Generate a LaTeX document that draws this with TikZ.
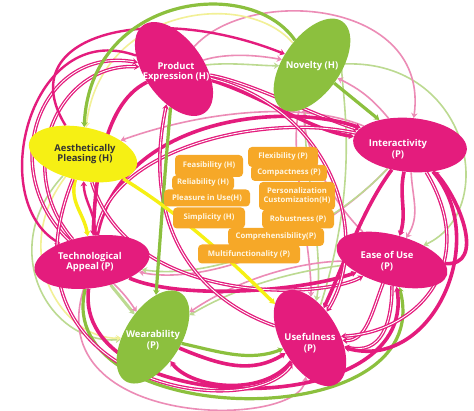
\documentclass[tikz,border=0pt]{standalone}
\usepackage{fontspec}
\setmainfont{Open Sans}
\usetikzlibrary{shapes.geometric,arrows.meta}
\definecolor{mag}{RGB}{228,28,125}
\definecolor{grn}{RGB}{140,192,62}
\definecolor{yel}{RGB}{246,240,20}
\definecolor{orng}{RGB}{246,168,40}
\definecolor{pinkl}{RGB}{236,140,182}
\definecolor{grnl}{RGB}{188,218,145}
\definecolor{yell}{RGB}{242,240,150}
\definecolor{cream}{RGB}{255,246,225}
\pgfdeclarelayer{bg}
\pgfsetlayers{bg,main}
\tikzset{
  ell/.style={ellipse, inner sep=0pt},
  lab/.style={font=\bfseries\fontsize{9.4}{10.6}\selectfont, text=white, align=center},
  obox/.style={fill=orng, rounded corners=4pt, font=\bfseries\fontsize{7.7}{8.8}\selectfont, text=cream, inner sep=0pt, align=center},
  tip/.style={-{Stealth[length=5pt,width=6.5pt]}},
  magT/.style={draw=mag, line width=3.6pt, tip},
  magM/.style={draw=mag, line width=2.4pt, tip},
  magD/.style={draw=mag, double=white, line width=1.3pt, double distance=0.9pt, tip},
  grnT/.style={draw=grn, line width=3.2pt, tip},
  yelT/.style={draw=yel, line width=3.4pt, tip},
  pinkL/.style={draw=pinkl, line width=1.6pt, tip},
  grnL/.style={draw=grnl, line width=1.6pt, tip},
  yelL/.style={draw=yell, line width=1.6pt, tip},
}
\begin{document}
\begin{tikzpicture}[x=1pt,y=-1pt]
\useasboundingbox (0,0) rectangle (474,411);
% ellipses
\node[ell, fill=mag, minimum width=107pt, minimum height=59pt, rotate=-55] (pe) at (174,69) {};
\node[ell, fill=grn, minimum width=106pt, minimum height=57pt, rotate=55] (nov) at (312,65) {};
\node[ell, fill=mag, minimum width=114pt, minimum height=54pt, rotate=-5] (inter) at (410,145) {};
\node[ell, fill=yel, minimum width=110pt, minimum height=53pt, rotate=-12] (aes) at (83,154) {};
\node[ell, fill=mag, minimum width=116pt, minimum height=52pt, rotate=8] (tech) at (92,262) {};
\node[ell, fill=grn, minimum width=104pt, minimum height=56pt, rotate=58] (wear) at (153,337) {};
\node[ell, fill=mag, minimum width=106pt, minimum height=57pt, rotate=-60] (use) at (310,338) {};
\node[ell, fill=mag, minimum width=114pt, minimum height=50pt, rotate=-15] (ease) at (392,260) {};
% labels
\node[lab] (pet) at (176,72) {Product\\Expression (H)};
\node[lab] (novt) at (312,66) {Novelty (H)};
\node[lab] (intert) at (398,149) {Interactivity\\(P)};
\node[lab, text=black!80] (aest) at (85,154) {Aesthetically\\Pleasing (H)};
\node[lab] (techt) at (90,262) {Technological\\Appeal (P)};
\node[lab] (weart) at (153,340) {Wearability\\(P)};
\node[lab] (uset) at (310,343) {Usefulness\\(P)};
\node[lab] (easet) at (387,261) {Ease of Use\\(P)};
% orange boxes
\node[obox, minimum width=68pt, minimum height=22pt] (b1) at (209,166) {Feasibility (H)};
\node[obox, minimum width=62pt, minimum height=15pt] (b2) at (203,183) {Reliability (H)};
\node[obox, minimum width=86pt, minimum height=17pt] (b3) at (207,198) {Pleasure in Use(H)};
\node[obox, minimum width=72pt, minimum height=21pt] (b4) at (209,218) {Simplicity (H)};
\node[obox, minimum width=70pt, minimum height=20pt] (b5) at (283,157) {Flexibility (P)};
\node[obox, minimum width=76pt, minimum height=16pt] (b6) at (289,173) {Compactness (P)};
\node[obox, minimum width=76pt, minimum height=28pt] (b7) at (297,196) {Personalization\\Customization(H)};
\node[obox, minimum width=72pt, minimum height=19pt] (b8) at (298,219) {Robustness (P)};
\node[obox, minimum width=96pt, minimum height=18pt] (b9) at (276,237) {Comprehensibility(P)};
\node[obox, minimum width=102pt, minimum height=19pt] (b10) at (249,254) {Multifunctionality (P)};
\begin{pgfonlayer}{bg}
\fill[white] (0,0) rectangle (474,411);
% thin background lines
\draw[grnL] (nov) .. controls (470,60) and (500,210) .. (ease);
\draw[pinkL] (pe) .. controls (250,-15) and (430,0) .. (inter);
\draw[yelL] (nov) .. controls (245,-12) and (100,8) .. (aes);
\draw[pinkL] (pe) .. controls (230,52) and (262,56) .. (nov);
\draw[grnL] (pe) .. controls (230,62) and (262,66) .. (nov);
\draw[pinkL] (inter) .. controls (300,100) and (200,112) .. (aes);
\draw[grnL] (nov) .. controls (300,150) and (325,250) .. (use);
\draw[pinkL] (nov) .. controls (288,150) and (312,250) .. (use);
\draw[grnL] (ease) .. controls (300,270) and (240,285) .. (wear);
\draw[pinkL] (ease) .. controls (300,262) and (240,278) .. (wear);
\draw[pinkL] (inter) .. controls (310,250) and (200,285) .. (tech);
\draw[grnL] (inter) .. controls (320,240) and (210,280) .. (tech);
\draw[pinkL] (ease) .. controls (330,200) and (300,140) .. (nov);
\draw[grnL] (aes) .. controls (-5,250) and (50,345) .. (wear);
\draw[yelL] (aes) .. controls (8,252) and (62,340) .. (wear);
\draw[pinkL] (tech) .. controls (40,430) and (300,430) .. (use);
\draw[grnL] (use) .. controls (370,150) and (330,60) .. (nov);
% outer left arcs
\draw[magM] (pe) .. controls (30,18) and (-15,200) .. (tech);
\draw[magD] (tech) .. controls (-5,170) and (40,45) .. (pe);
\draw[magD] (tech) .. controls (12,168) and (58,62) .. (pe);
\draw[magM] (aes) .. controls (10,35) and (150,0) .. (nov);
\draw[grnT] (nov) .. controls (250,-25) and (90,-5) .. (aes);
% PE to Interactivity
\draw[magT] (pe) .. controls (260,95) and (310,130) .. (inter);
\draw[magD] (pe) .. controls (250,82) and (320,118) .. (inter);
% central ring
\draw[magT] (tech) .. controls (120,120) and (280,100) .. (inter);
\draw[magD] (inter) .. controls (260,112) and (110,150) .. (tech);
\draw[magT] (tech) .. controls (180,300) and (300,292) .. (ease);
\draw[magD] (aes) .. controls (130,305) and (320,300) .. (ease);
\draw[magT] (inter) .. controls (362,210) and (345,262) .. (use);
\draw[magD] (pe) .. controls (335,110) and (372,240) .. (use);
\draw[magT] (pe) .. controls (100,105) and (95,190) .. (tech);
\draw[magD] (use) .. controls (200,300) and (140,230) .. (pe);
% green PE to Wearability
\draw[grnT] (pe) .. controls (165,170) and (160,240) .. (wear);
% yellow
\draw[yelT] (aes) to[out=-100,in=95] (tech);
\draw[magM] (tech) to[out=80,in=-82] (aes);
\draw[yelT] (aes) .. controls (190,220) and (240,270) .. (use);
% Interactivity - Ease
\draw[magT] (inter) to[out=-100,in=80] (ease);
\draw[magT] (ease) to[out=5,in=-45] (inter);
\draw[pinkL] (inter) to[out=-85,in=65] (ease);
% Ease - Usefulness
\draw[magD] (ease) .. controls (372,312) and (366,342) .. (use);
\draw[magD] (ease) .. controls (392,322) and (382,356) .. (use);
% Wearability - Usefulness
\draw[grnT] (wear) .. controls (220,352) and (250,362) .. (use);
\draw[magT] (wear) .. controls (222,366) and (252,374) .. (use);
\draw[magT] (use) .. controls (262,398) and (190,388) .. (wear);
% bottom arcs
\draw[grnT] (tech) .. controls (50,430) and (440,440) .. (ease);
\draw[magT] (tech) .. controls (72,418) and (420,425) .. (ease);
\draw[magD] (aes) .. controls (-10,385) and (250,425) .. (use);
% right side arcs
\draw[magT] (inter) .. controls (492,240) and (432,372) .. (use);
\draw[magD] (inter) .. controls (480,262) and (420,332) .. (use);
% Novelty - Interactivity
\draw[grnT] (nov) -- (inter);
\draw[pinkL] (inter) to[bend right=12] (nov);
% Technological - Wearability
\draw[grnL, line width=3pt] (tech) -- (wear);
\draw[pinkL] (tech) to[bend left=6] (wear);
\end{pgfonlayer}
\end{tikzpicture}
\end{document}
